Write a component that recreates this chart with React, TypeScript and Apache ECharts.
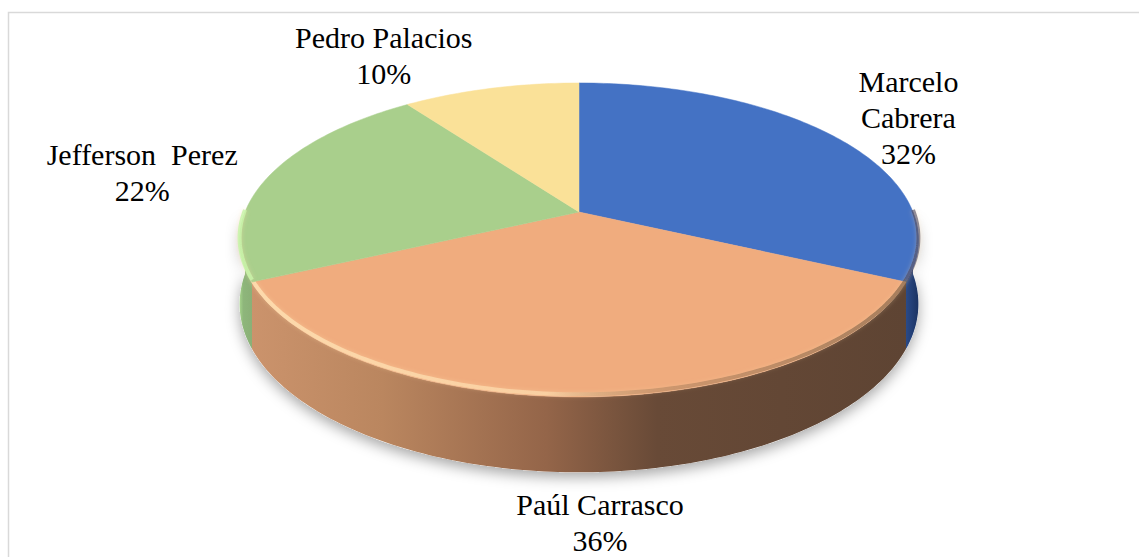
import React, { useEffect, useRef } from "react";
import * as echarts from "echarts";

const NAMES = ["Marcelo\nCabrera", "Paúl Carrasco", "Jefferson  Perez", "Pedro Palacios"];
const VALUES = [32, 36, 22, 10];
const TOP_COLORS = ["#4472C4", "#F0AC7E", "#A9CF8C", "#FAE198"];
const SIDE_COLORS: [number, string][][] = [
  [[0, "#2A4A88"], [1, "#1B3362"]],
  [[0, "#CB936C"], [0.2, "#BA865F"], [0.45, "#946549"], [0.62, "#684A37"], [1, "#5E4433"]],
  [[0, "#A6D48C"], [0.3, "#8EB67B"], [1, "#8AB077"]],
  [[0, "#C9B67A"], [1, "#B8A56C"]],
];
const EDGE_COLORS: [number, string][][] = [
  [[0, "rgba(20,40,90,0.6)"], [1, "rgba(20,40,90,0.6)"]],
  [[0, "rgba(255,226,180,0.8)"], [0.45, "rgba(255,226,180,0.6)"], [0.65, "rgba(120,80,50,0.35)"], [1, "rgba(80,55,35,0.55)"]],
  [[0, "rgba(200,245,170,0.85)"], [1, "rgba(200,245,170,0.8)"]],
  [[0, "rgba(255,240,190,0.8)"], [1, "rgba(255,240,190,0.8)"]],
];
const LABEL_OFFSETS = [[72, -20], [21, 126], [-127, -3], [-107, -33]];

const W = 1139;
const H = 557;
const CX = 579;
const CY = 212;
const RA = 334;
const RB = 152;
const K = 0.178;
const T = 62;
const FONT = "'Liberation Serif', 'Times New Roman', 'DejaVu Serif', serif";

const TOTAL = VALUES.reduce((s, v) => s + v, 0);
const STARTS: number[] = [];
{
  let acc = 0;
  VALUES.forEach((v) => {
    STARTS.push(acc / TOTAL);
    acc += v;
  });
}

function proj(theta: number, h: number): number[] {
  const X = Math.sin(theta);
  const Z = Math.cos(theta);
  const d = 1 + K * Z;
  return [CX + (RA * X) / d, CY - (RB * Z) / d + (h * T) / d];
}

function arc(a1: number, a2: number, h: number): number[][] {
  const n = Math.max(2, Math.ceil((a2 - a1) / (Math.PI / 180)));
  const pts: number[][] = [];
  for (let i = 0; i <= n; i++) pts.push(proj(a1 + ((a2 - a1) * i) / n, h));
  return pts;
}

const DATA = VALUES.map((v, i) => ({ name: NAMES[i], value: [v, STARTS[i], STARTS[i] + v / TOTAL] }));

export default function App() {
  const ref = useRef<HTMLDivElement>(null);
  useEffect(() => {
    document.body.style.margin = "0";
    const chart = echarts.init(ref.current!, undefined, { renderer: "svg" });
    const TWO_PI = Math.PI * 2;
    const sideRange = (a1: number, a2: number) => {
      const s = Math.max(a1, Math.PI / 2);
      const e = Math.min(a2, (3 * Math.PI) / 2);
      return e > s ? [s, e] : null;
    };
    chart.setOption({
      animation: false,
      backgroundColor: "#FFFFFF",
      graphic: [
        {
          type: "polyline",
          shape: { points: [[8.5, H], [8.5, 12.5], [W, 12.5]] },
          style: { stroke: "#D9D9D9", lineWidth: 1.5, fill: "none" },
          silent: true,
        },
      ],
      series: [
        {
          type: "custom",
          coordinateSystem: "none",
          z: 1,
          data: [DATA[0]],
          renderItem: () => {
            const top = arc(Math.PI / 2, (3 * Math.PI) / 2, 0);
            const bot = arc(Math.PI / 2, (3 * Math.PI) / 2, 1).reverse();
            return {
              type: "polygon",
              shape: { points: top.concat(bot) },
              style: {
                fill: "#FFFFFF",
                shadowBlur: 14,
                shadowColor: "rgba(0,0,0,0.35)",
                shadowOffsetY: 5,
              },
              silent: true,
            };
          },
        },
        {
          type: "custom",
          coordinateSystem: "none",
          z: 2,
          data: DATA,
          renderItem: (params: any, api: any) => {
            const i = params.dataIndex;
            const a1 = api.value(1) * TWO_PI;
            const a2 = api.value(2) * TWO_PI;
            const r = sideRange(a1, a2);
            if (!r) return { type: "group", children: [] };
            const top = arc(r[0], r[1], 0);
            const bot = arc(r[0], r[1], 1).reverse();
            return {
              type: "polygon",
              shape: { points: top.concat(bot) },
              style: {
                fill: new echarts.graphic.LinearGradient(
                  0, 0, 1, 0,
                  SIDE_COLORS[i].map(([o, c]) => ({ offset: o, color: c }))
                ),
              },
              silent: true,
            };
          },
        },
        {
          type: "custom",
          coordinateSystem: "none",
          z: 3,
          data: DATA,
          renderItem: (params: any, api: any) => {
            const i = params.dataIndex;
            const a1 = api.value(1) * TWO_PI;
            const a2 = api.value(2) * TWO_PI;
            const pts = [[CX, CY]].concat(arc(a1, a2, 0));
            const children: any[] = [
              {
                type: "polygon",
                shape: { points: pts },
                style: { fill: TOP_COLORS[i], stroke: TOP_COLORS[i], lineWidth: 0.5 },
              },
            ];
            const r = sideRange(a1, a2);
            if (r) {
              children.push({
                type: "polyline",
                shape: { points: arc(r[0], r[1], -0.035) },
                style: {
                  fill: "none",
                  lineWidth: 4,
                  stroke: new echarts.graphic.LinearGradient(
                    0, 0, 1, 0,
                    EDGE_COLORS[i].map(([o, c]) => ({ offset: o, color: c }))
                  ),
                  shadowBlur: 4,
                  shadowColor: "rgba(255,220,170,0.5)",
                },
              });
            }
            return { type: "group", children, silent: true };
          },
        },
        {
          type: "custom",
          coordinateSystem: "none",
          z: 4,
          data: DATA,
          renderItem: (params: any, api: any) => {
            const i = params.dataIndex;
            const mid = ((api.value(1) + api.value(2)) / 2) * TWO_PI;
            const p = proj(mid, 0);
            const pct = Math.round((api.value(0) / TOTAL) * 100);
            return {
              type: "text",
              x: p[0] + LABEL_OFFSETS[i][0],
              y: p[1] + LABEL_OFFSETS[i][1],
              style: {
                text: NAMES[i] + "\n" + pct + "%",
                fill: "#000000",
                fontSize: 30,
                fontFamily: FONT,
                font: "normal 30px " + FONT,
                align: "center",
                verticalAlign: "middle",
                lineHeight: 36,
              },
              silent: true,
            };
          },
        },
      ],
    });
    return () => chart.dispose();
  }, []);
  return <div ref={ref} style={{ width: W, height: H }} />;
}
